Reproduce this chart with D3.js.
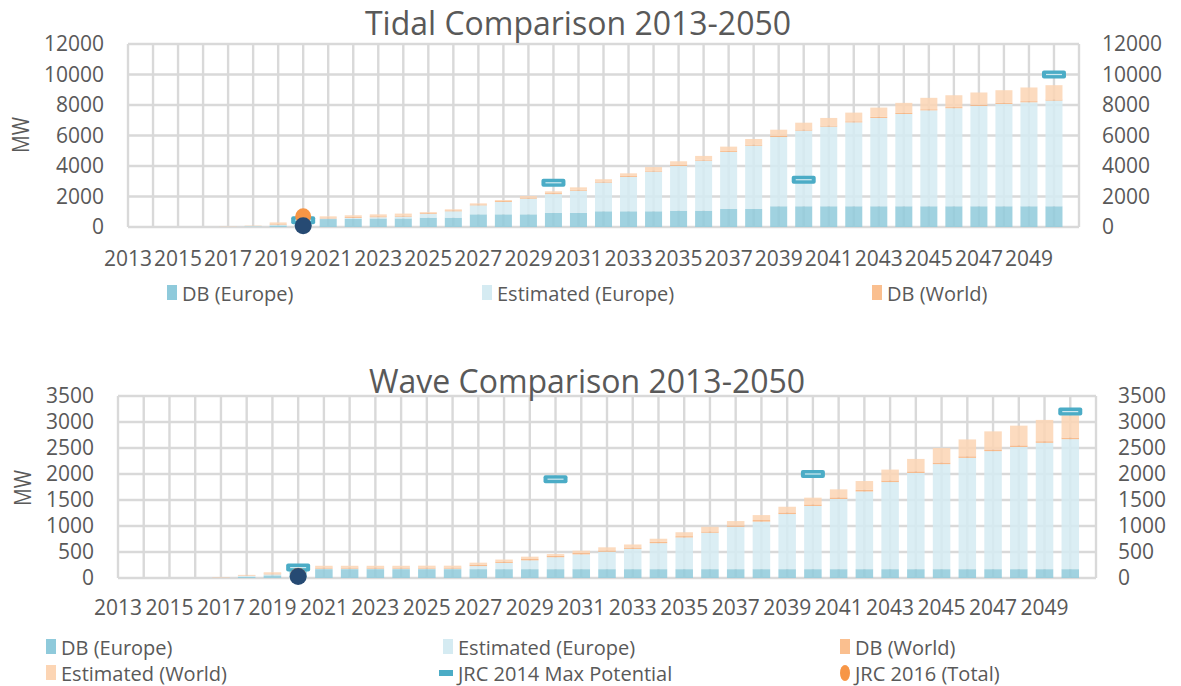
<!DOCTYPE html>
<html><head><meta charset="utf-8">
<script src="https://cdn.jsdelivr.net/npm/d3@7"></script>
<style>
html,body{margin:0;padding:0;background:#fff;}
svg{display:block;font-family:"Open Sans",sans-serif;}
</style></head>
<body>
<svg id="chart" width="1181" height="686"></svg>
<script>
// ---------- DATA ----------
const years = [2013,2014,2015,2016,2017,2018,2019,2020,2021,2022,2023,2024,2025,2026,2027,2028,2029,2030,2031,2032,2033,2034,2035,2036,2037,2038,2039,2040,2041,2042,2043,2044,2045,2046,2047,2048,2049,2050];
const yearLabels = [2013,2015,2017,2019,2021,2023,2025,2027,2029,2031,2033,2035,2037,2039,2041,2043,2045,2047,2049];

// Tidal (MW, cumulative heights of overlapping bars)
const tidalDbEurope  = [0,0,0,0,0,30,100,450,520,540,560,560,610,610,830,830,830,920,920,1030,1030,1030,1070,1070,1180,1180,1360,1360,1360,1360,1360,1360,1360,1360,1360,1360,1360,1360];
const tidalEstEurope = [0,0,0,0,10,60,150,480,560,600,640,680,870,1030,1420,1640,1860,2160,2380,2910,3280,3630,4000,4350,4920,5330,5900,6320,6580,6860,7150,7410,7650,7790,7940,8070,8180,8290];
const tidalDbWorld   = [0,0,0,0,15,70,190,530,620,660,700,740,930,1090,1480,1700,1920,2220,2440,2970,3340,3690,4060,4410,4980,5400,5970,6390,6650,6930,7220,7480,7720,7860,8010,8140,8250,8360];
const tidalEstWorld  = [0,0,0,0,30,90,300,560,700,770,830,880,980,1160,1550,1770,2030,2340,2600,3130,3520,3930,4310,4660,5270,5770,6380,6840,7150,7500,7830,8140,8470,8640,8820,8970,9150,9300];
const tidalJrc2014   = [{year:2020,value:450},{year:2030,value:2900},{year:2040,value:3100},{year:2050,value:10000}];
const tidalJrc2016   = [{year:2020,value:700}];
const tidalJrcEurope = [{year:2020,value:80}];
const tidalTicks = [0,2000,4000,6000,8000,10000,12000];

// Wave (MW)
const waveDbEurope  = [0,0,0,0,0,20,50,170,170,170,170,170,170,170,170,170,170,170,170,170,170,170,170,170,170,170,170,170,170,170,170,170,170,170,170,170,170,170];
const waveEstEurope = [0,0,0,0,0,40,70,180,180,180,180,180,180,180,230,290,340,400,455,505,560,670,780,870,985,1085,1230,1385,1520,1665,1845,2020,2190,2310,2440,2520,2600,2670];
const waveDbWorld   = [0,0,0,0,4,48,85,200,200,200,200,200,200,200,255,315,365,425,480,530,585,695,805,895,1010,1115,1260,1415,1550,1695,1875,2050,2220,2340,2470,2550,2630,2700];
const waveEstWorld  = [0,0,0,0,8,60,110,230,235,235,235,235,237,237,295,355,410,460,525,590,645,755,880,985,1095,1210,1370,1545,1705,1865,2085,2290,2500,2665,2820,2930,3040,3130];
const waveJrc2014   = [{year:2020,value:200},{year:2030,value:1900},{year:2040,value:2000},{year:2050,value:3200}];
const waveJrc2016   = [{year:2020,value:45}];
const waveJrcEurope = [{year:2020,value:30}];
const waveTicks = [0,500,1000,1500,2000,2500,3000,3500];

const seriesNames = ["DB (Europe)","Estimated (Europe)","DB (World)","Estimated (World)","JRC 2014 Max Potential","JRC 2016 (Total)"];
const colors = {dbEu:"#8fcadb", estEu:"#d5ebf2", dbW:"#f7b07a", estW:"#fcd5b4", jrc14:"#4bacc6", jrc16:"#f79646", jrcEu:"#264a73"};
const textColor = "#595959";
const gridColor = "#d9d9d9";

const svg = d3.select("#chart");

function drawChart(cfg){
  const g = svg.append("g");
  const n = years.length;
  const step = (cfg.right - cfg.left) / n;
  const x = d3.scaleBand().domain(years)
    .range([cfg.left - step/2, cfg.left - step/2 + n*step])
    .paddingInner(0.32).paddingOuter(0.16);
  const y = d3.scaleLinear().domain([0, cfg.max]).range([cfg.bottom, cfg.top]);
  const cx = d => x(d) + x.bandwidth()/2;

  // grid
  const grid = g.append("g");
  grid.selectAll("line.h").data(cfg.ticks).join("line")
    .attr("x1", cfg.left).attr("x2", cfg.right)
    .attr("y1", d => y(d)).attr("y2", d => y(d))
    .attr("stroke", gridColor).attr("stroke-width", 2.4);
  const vlines = years.map(cx).concat([cfg.right]);
  grid.selectAll("line.v").data(vlines).join("line")
    .attr("x1", d => d).attr("x2", d => d)
    .attr("y1", cfg.top).attr("y2", cfg.bottom)
    .attr("stroke", gridColor).attr("stroke-width", 2.4);

  // clip
  const clipId = "clip" + cfg.id;
  g.append("clipPath").attr("id", clipId).append("rect")
    .attr("x", cfg.left).attr("y", cfg.top - 5)
    .attr("width", cfg.right - cfg.left).attr("height", cfg.bottom - cfg.top + 5);

  // bar segments
  const layers = [
    {lo: years.map(() => 0), hi: cfg.dbEu, color: colors.dbEu},
    {lo: cfg.dbEu, hi: cfg.estEu, color: colors.estEu},
    {lo: cfg.estEu, hi: cfg.dbW, color: colors.dbW},
    {lo: cfg.dbW, hi: cfg.estW, color: colors.estW}
  ];
  const bars = g.append("g").attr("clip-path", `url(#${clipId})`);
  layers.forEach(L => {
    const segs = years.map((yr, i) => ({yr, lo: L.lo[i], hi: Math.max(L.hi[i], L.lo[i])}))
      .filter(s => s.hi > s.lo);
    bars.append("g").selectAll("rect").data(segs).join("rect")
      .attr("x", s => x(s.yr)).attr("width", x.bandwidth())
      .attr("y", s => y(s.hi)).attr("height", s => y(s.lo) - y(s.hi))
      .attr("fill", L.color).attr("fill-opacity", 0.85);
  });

  // JRC 2014 dash markers
  const mk = g.append("g");
  const dashes = mk.selectAll("g.d").data(cfg.jrc14).join("g")
    .attr("transform", d => `translate(${cx(d.year)},${y(d.value)})`);
  dashes.append("rect").attr("x", -12).attr("y", -4).attr("width", 24).attr("height", 8)
    .attr("rx", 2).attr("fill", colors.jrc14);
  dashes.append("line").attr("x1", -8).attr("x2", 8).attr("y1", 0).attr("y2", 0)
    .attr("stroke", "#cfe9f0").attr("stroke-width", 1.2);

  mk.selectAll("circle.o").data(cfg.jrc16).join("circle")
    .attr("cx", d => cx(d.year)).attr("cy", d => y(d.value)).attr("r", 8)
    .attr("fill", colors.jrc16);
  mk.selectAll("circle.b").data(cfg.jrcEu).join("circle")
    .attr("cx", d => cx(d.year)).attr("cy", d => y(d.value)).attr("r", 8.5)
    .attr("fill", colors.jrcEu);

  // axes
  const fmt = d3.format("d");
  const yl = g.append("g").attr("transform", `translate(${cfg.left},0)`)
    .call(d3.axisLeft(y).tickValues(cfg.ticks).tickSize(0).tickPadding(cfg.leftPad).tickFormat(fmt));
  const yr = g.append("g").attr("transform", `translate(${cfg.right},0)`)
    .call(d3.axisRight(y).tickValues(cfg.ticks).tickSize(0).tickPadding(cfg.rightPad).tickFormat(fmt));
  const xa = g.append("g").attr("transform", `translate(0,${cfg.bottom})`)
    .call(d3.axisBottom(x).tickValues(yearLabels).tickSize(0).tickPadding(cfg.xPad).tickFormat(fmt));
  [yl, yr, xa].forEach(a => {
    a.select(".domain").remove();
    a.selectAll("text").attr("fill", textColor).style("font-size", "21px").style("font-family", "'Open Sans',sans-serif");
  });

  // title
  g.append("text").attr("x", cfg.titleX).attr("y", cfg.titleY).attr("text-anchor", "middle")
    .attr("fill", textColor).style("font-size", "32px").text(cfg.title);
  // y label
  g.append("text").attr("transform", `translate(${cfg.mwX},${cfg.mwY}) rotate(-90) scale(0.86,1)`)
    .attr("text-anchor", "middle").attr("dominant-baseline", "central")
    .attr("fill", textColor).style("font-size", "23px").text("MW");

  // legend
  const lg = g.append("g");
  cfg.legend.forEach(item => {
    const it = lg.append("g").attr("transform", `translate(${item.x},${item.y})`);
    if (item.type === "rect") {
      it.append("rect").attr("x", -15).attr("y", -8).attr("width", 10).attr("height", 15).attr("fill", item.color);
    } else if (item.type === "dash") {
      it.append("rect").attr("x", -19).attr("y", -3).attr("width", 14).attr("height", 6).attr("fill", item.color);
    } else {
      it.append("ellipse").attr("cx", -10).attr("cy", 0).attr("rx", 5).attr("ry", 8).attr("fill", item.color);
    }
    it.append("text").attr("x", 0).attr("y", 0).attr("dominant-baseline", "central")
      .attr("fill", textColor).style("font-size", "20px").text(item.name);
  });
}

drawChart({
  id: "tidal", title: "Tidal Comparison 2013-2050", titleX: 578, titleY: 35,
  left: 128, right: 1079, top: 44, bottom: 227, max: 12000, ticks: tidalTicks,
  leftPad: 24, rightPad: 23, xPad: 24, mwX: 20, mwY: 135,
  dbEu: tidalDbEurope, estEu: tidalEstEurope, dbW: tidalDbWorld, estW: tidalEstWorld,
  jrc14: tidalJrc2014, jrc16: tidalJrc2016, jrcEu: tidalJrcEurope,
  legend: [
    {name: seriesNames[0], type: "rect", color: colors.dbEu, x: 182, y: 293},
    {name: seriesNames[1], type: "rect", color: colors.estEu, x: 497, y: 293},
    {name: seriesNames[2], type: "rect", color: "#fabf8f", x: 887, y: 293}
  ]
});

drawChart({
  id: "wave", title: "Wave Comparison 2013-2050", titleX: 587, titleY: 393,
  left: 118, right: 1096, top: 396, bottom: 578, max: 3500, ticks: waveTicks,
  leftPad: 24, rightPad: 22, xPad: 22, mwX: 22, mwY: 488,
  dbEu: waveDbEurope, estEu: waveEstEurope, dbW: waveDbWorld, estW: waveEstWorld,
  jrc14: waveJrc2014, jrc16: waveJrc2016, jrcEu: waveJrcEurope,
  legend: [
    {name: seriesNames[0], type: "rect", color: colors.dbEu, x: 61, y: 647},
    {name: seriesNames[1], type: "rect", color: colors.estEu, x: 458, y: 647},
    {name: seriesNames[2], type: "rect", color: "#fabf8f", x: 855, y: 647},
    {name: seriesNames[3], type: "rect", color: colors.estW, x: 61, y: 673},
    {name: seriesNames[4], type: "dash", color: colors.jrc14, x: 458, y: 673},
    {name: seriesNames[5], type: "circle", color: colors.jrc16, x: 855, y: 673}
  ]
});
</script>
</body></html>
